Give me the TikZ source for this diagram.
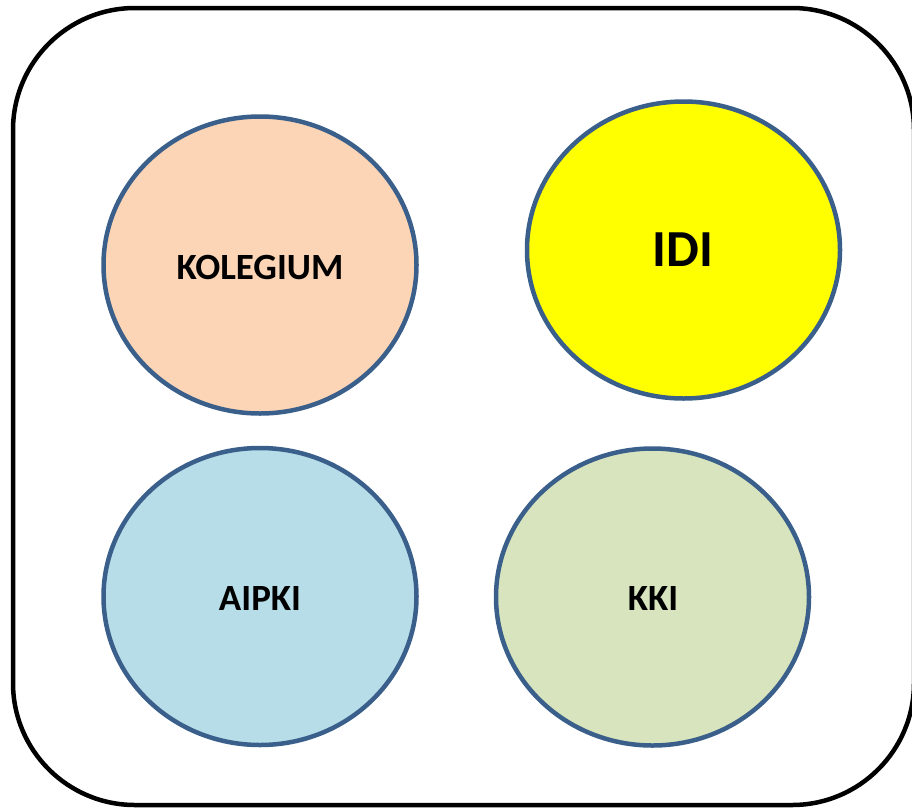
\documentclass[tikz,border=0pt]{standalone}
\usepackage{fontspec}
\setmainfont{Carlito}
\usetikzlibrary{shapes.geometric}
\definecolor{rim}{HTML}{3A5F8B}
\definecolor{peach}{HTML}{FBD5B5}
\definecolor{sky}{HTML}{B7DDE8}
\definecolor{sage}{HTML}{D7E4BD}
\definecolor{sun}{HTML}{FFFF00}
\tikzset{
  blob/.style={ellipse, draw=rim, line width=4.5pt, minimum width=313pt, minimum height=297pt, inner sep=0pt},
  lbl/.style={font=\fontsize{37}{39}\selectfont\bfseries},
  frame/.style={draw=black, line width=4.5pt, rounded corners=122pt}
}
\begin{document}
\begin{tikzpicture}[x=1pt,y=-1pt]
\useasboundingbox (0,0) rectangle (912,809);
\draw[frame] (13,8) rectangle (914,805);
\node[blob, fill=peach] (kol) at (260,265) {};
\node[lbl] (kolt) at (260,267) {KOLEGIUM};
\node[blob, fill=sun] (idi) at (683.5,250) {};
\node[lbl, font=\fontsize{52}{54}\selectfont\bfseries] (idit) at (683,250) {IDI};
\node[blob, fill=sky] (aip) at (260,596.5) {};
\node[lbl] (aipt) at (260,598) {AIPKI};
\node[blob, fill=sage] (kki) at (652.5,597) {};
\node[lbl] (kkit) at (653,598) {KKI};
\end{tikzpicture}
\end{document}
